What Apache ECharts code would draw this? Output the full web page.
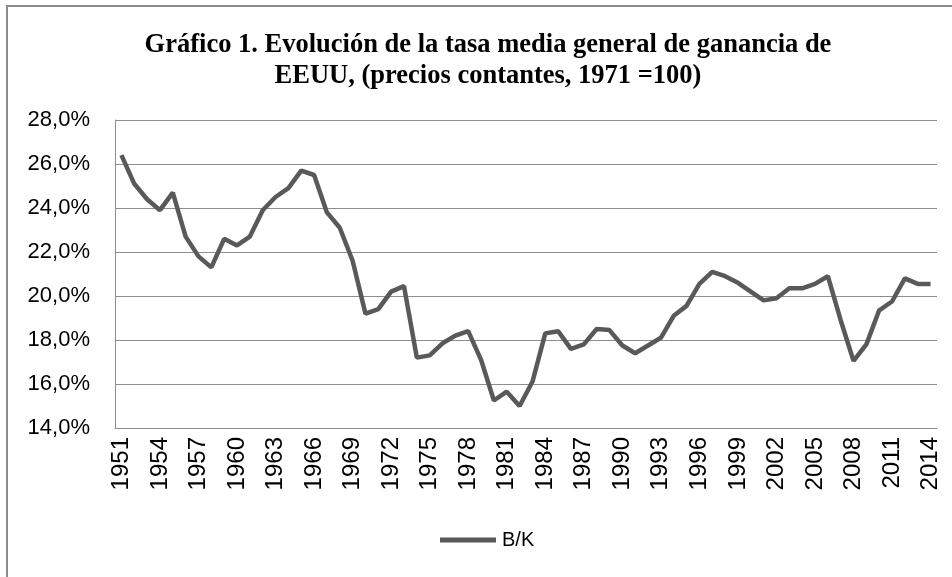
<!DOCTYPE html>
<html>
<head>
<meta charset="utf-8">
<script src="https://cdn.jsdelivr.net/npm/echarts@6/dist/echarts.min.js"></script>
<style>
body { margin: 0; background: #fff; }
#chart { width: 952px; height: 577px; }
</style>
</head>
<body>
<div id="chart"></div>
<script>
// años 1951-2014
var years = [];
for (var y = 1951; y <= 2014; y++) years.push(String(y));

// tasa media general de ganancia B/K (%)
var bk = [
  26.4, 25.1, 24.4, 23.9, 24.7, 22.7, 21.8, 21.3, 22.6, 22.3,
  22.7, 23.9, 24.5, 24.9, 25.7, 25.5, 23.8, 23.1, 21.6, 19.2,
  19.4, 20.2, 20.45, 17.2, 17.3, 17.85, 18.2, 18.4, 17.1, 15.25,
  15.65, 15.0, 16.1, 18.3, 18.4, 17.6, 17.8, 18.5, 18.45, 17.75,
  17.4, 17.75, 18.1, 19.1, 19.55, 20.55, 21.1, 20.9, 20.6, 20.2,
  19.8, 19.9, 20.35, 20.35, 20.55, 20.9, 18.9, 17.05, 17.8, 19.35,
  19.75, 20.8, 20.55, 20.55
];

var titleText = 'Gráfico 1. Evolución de la tasa media general de ganancia de\nEEUU, (precios contantes, 1971 =100)';

var chart = echarts.init(document.getElementById('chart'));
chart.setOption({
  animation: false,
  backgroundColor: '#fff',
  graphic: [{
    type: 'rect',
    shape: { x: 7, y: 6, width: 1200, height: 1000 },
    style: { fill: 'none', stroke: '#8c8c8c', lineWidth: 2 },
    silent: true
  }, {
    type: 'text',
    x: 488,
    y: 30,
    silent: true,
    style: {
      text: titleText,
      align: 'center',
      verticalAlign: 'top',
      fontFamily: 'Liberation Serif',
      fontWeight: 'bold',
      fontSize: 26.5,
      lineHeight: 31,
      fill: '#000'
    }
  }],
  legend: {
    top: 530,
    left: 440,
    icon: 'rect',
    itemWidth: 56,
    itemHeight: 5,
    itemGap: 10,
    padding: 0,
    textStyle: { fontFamily: 'Liberation Sans', fontSize: 20, color: '#000', padding: [0, 0, 0, 1] },
    data: ['B/K']
  },
  grid: { left: 115, right: 15, top: 120, bottom: 149 },
  xAxis: {
    type: 'category',
    data: years,
    boundaryGap: true,
    axisLine: { show: true, lineStyle: { color: '#8e8e8e', width: 1 } },
    axisTick: { show: false },
    axisLabel: {
      interval: 2,
      rotate: 90,
      margin: 9,
      fontFamily: 'Liberation Sans',
      fontSize: 24,
      color: '#000'
    }
  },
  yAxis: {
    type: 'value',
    min: 14,
    max: 28,
    interval: 2,
    axisLine: { show: true, lineStyle: { color: '#8e8e8e', width: 1 } },
    axisTick: { show: false },
    splitLine: { lineStyle: { color: '#8e8e8e', width: 1 } },
    axisLabel: {
      margin: 25,
      fontFamily: 'Liberation Sans',
      fontSize: 22,
      color: '#000',
      formatter: function (v) { return v.toFixed(1).replace('.', ',') + '%'; }
    }
  },
  series: [{
    name: 'B/K',
    type: 'line',
    data: bk,
    symbol: 'none',
    lineStyle: { color: '#595959', width: 4.5 },
    itemStyle: { color: '#595959' }
  }]
});
</script>
</body>
</html>
